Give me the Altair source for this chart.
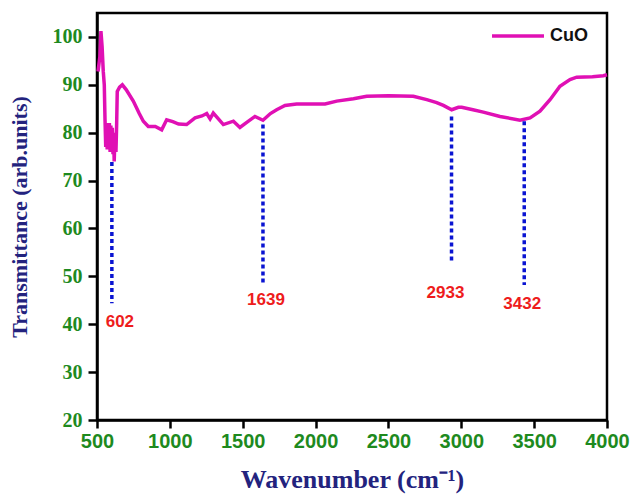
import altair as alt
import pandas as pd

# FTIR spectrum of CuO
wavenumber = [507, 520, 527, 535, 543, 550, 555, 560, 565, 570, 575, 580, 585, 590,
              595, 600, 605, 610, 614, 618, 624, 630, 635, 639, 655, 674, 700, 749,
              790, 818, 852, 900, 944, 978, 1020, 1060, 1115, 1173, 1220, 1253, 1276,
              1298, 1330, 1367, 1436, 1481, 1530, 1584, 1639, 1690, 1733, 1790, 1870,
              1962, 2065, 2145, 2260, 2351, 2500, 2671, 2763, 2831, 2877, 2934, 2980,
              3003, 3080, 3151, 3266, 3403, 3472, 3540, 3609, 3677, 3746, 3792, 3900,
              3975, 4000]
transmittance = [92.8, 96.0, 101.2, 98.0, 92.8, 90.0, 82.7, 77.0, 82.0, 76.5, 82.0, 77.0,
                 82.0, 76.0, 81.5, 77.0, 81.0, 75.5, 80.0, 74.0, 80.0, 76.0, 82.0, 88.6,
                 89.5, 90.0, 89.0, 86.6, 84.0, 82.4, 81.3, 81.3, 80.6, 82.7, 82.3, 81.8,
                 81.7, 83.1, 83.5, 84.0, 82.9, 84.1, 83.0, 81.7, 82.4, 81.1, 82.2, 83.4,
                 82.6, 84.0, 84.8, 85.7, 86.0, 86.0, 86.0, 86.6, 87.1, 87.6, 87.7, 87.6,
                 86.9, 86.3, 85.7, 84.8, 85.3, 85.3, 84.8, 84.3, 83.4, 82.6, 83.1, 84.5,
                 86.9, 89.7, 91.1, 91.6, 91.7, 91.9, 92.1]

# Marked bands: dotted drop lines and their labels
peak_names = ["602", "1639", "2933", "3432"]
peak_wn = [602, 1639, 2933, 3432]
peak_top = [73.9, 81.7, 83.4, 82.4]
peak_bottom = [44.4, 48.6, 52.8, 48.2]
label_t = [40.4, 45.0, 46.6, 44.2]
label_shift = [8, 3, -6, -2]

spectrum = pd.DataFrame({"wn": wavenumber, "t": transmittance, "sample": "CuO"})
peaks = pd.DataFrame({"name": peak_names, "wn": peak_wn, "top": peak_top,
                      "bottom": peak_bottom, "lt": label_t})

x_scale = alt.Scale(domain=[500, 4000], nice=False, zero=False)
y_scale = alt.Scale(domain=[20, 105], nice=False, zero=False)

x_axis = alt.Axis(values=list(range(500, 4001, 500)), format="d",
                  title="Wavenumber (cm⁻¹)",
                  labelFont="Liberation Sans", labelFontWeight="bold", labelFontSize=20,
                  labelColor="#1E8A1E", tickSize=8, labelPadding=3,
                  titleFont="Liberation Serif", titleFontWeight="bold", titleFontSize=26,
                  titleColor="#23237E", titlePadding=15, labelFlush=False)
y_axis = alt.Axis(values=list(range(20, 101, 10)), format="d",
                  title="Transmittance (arb.units)",
                  labelFont="Liberation Serif", labelFontWeight="bold", labelFontSize=20,
                  labelColor="#1E8A1E", tickSize=9, labelPadding=6,
                  titleFont="Liberation Serif", titleFontWeight="bold", titleFontSize=22,
                  titleColor="#23237E", titlePadding=21, labelFlush=False)

line = alt.Chart(spectrum).mark_line(strokeWidth=3.5).encode(
    x=alt.X("wn:Q", scale=x_scale, axis=x_axis),
    y=alt.Y("t:Q", scale=y_scale, axis=y_axis),
    color=alt.Color("sample:N", scale=alt.Scale(domain=["CuO"], range=["#E010B4"]),
                    legend=alt.Legend(title=None, orient="none", legendX=393, legendY=-5,
                                      symbolType="stroke", symbolSize=2700,
                                      symbolStrokeWidth=3.5, labelFont="Liberation Sans",
                                      labelFontWeight="bold", labelFontSize=18,
                                      labelColor="#111111", padding=0)),
)

drops = alt.Chart(peaks).mark_rule(color="#0A14D2", strokeWidth=3.5,
                                   strokeDash=[4, 3]).encode(
    x=alt.X("wn:Q", scale=x_scale),
    y=alt.Y("top:Q", scale=y_scale),
    y2="bottom:Q",
)

labels = [
    alt.Chart(peaks[peaks["name"] == n]).mark_text(
        font="Liberation Sans", fontWeight="bold", fontSize=17, color="#EE1C1C",
        dx=s).encode(
        x=alt.X("wn:Q", scale=x_scale),
        y=alt.Y("lt:Q", scale=y_scale),
        text="name:N",
    )
    for n, s in zip(peak_names, label_shift)
]

chart = alt.layer(line, drops, *labels).properties(
    width=510, height=407,
    autosize=alt.AutoSizeParams(type="none"),
    padding={"left": 97, "top": 13, "right": 27, "bottom": 78},
).configure_view(stroke="black", strokeWidth=2.5).configure_axis(
    grid=False, domainColor="black", domainWidth=2.5, tickColor="black", tickWidth=2.5,
)

chart.save("out.html", embed_options={"renderer": "svg", "actions": False})
